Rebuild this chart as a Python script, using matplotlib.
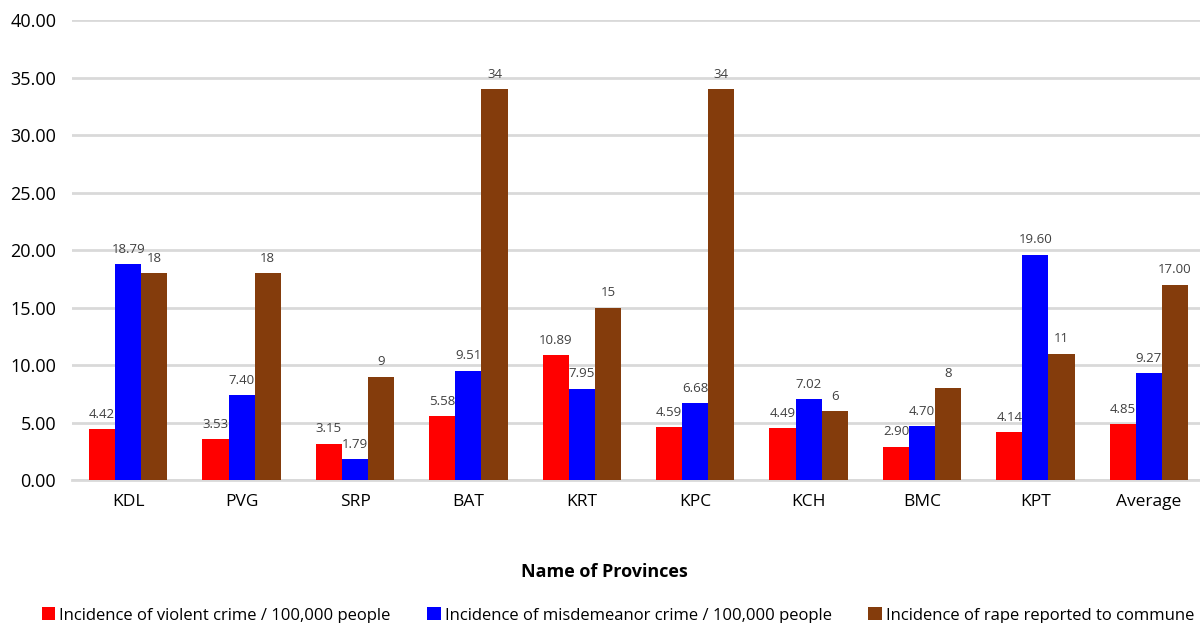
import matplotlib.pyplot as plt
import numpy as np

provinces = ["KDL", "PVG", "SRP", "BAT", "KRT", "KPC", "KCH", "BMC", "KPT", "Average"]
violent = [4.42, 3.53, 3.15, 5.58, 10.89, 4.59, 4.49, 2.90, 4.14, 4.85]
misdemeanor = [18.79, 7.40, 1.79, 9.51, 7.95, 6.68, 7.02, 4.70, 19.60, 9.27]
rape = [18, 18, 9, 34, 15, 34, 6, 8, 11, 17.00]
rape_labels = ["18", "18", "9", "34", "15", "34", "6", "8", "11", "17.00"]

series_names = [
    "Incidence of violent crime / 100,000 people",
    "Incidence of misdemeanor crime / 100,000 people",
    "Incidence of rape reported to commune",
]
colors = ["#FF0000", "#0000FF", "#843C0C"]

plt.rcParams["font.family"] = ["Open Sans", "DejaVu Sans"]

fig = plt.figure(figsize=(12, 6.23), dpi=100)
ax = fig.add_axes([0.0596, 0.2295, 0.945, 0.738])

x = np.arange(len(provinces))
width = 0.23

series = [violent, misdemeanor, rape]
bar_groups = []
for i, (vals, color, name) in enumerate(zip(series, colors, series_names)):
    bars = ax.bar(x + (i - 1) * width, vals, width, color=color, label=name, zorder=3)
    bar_groups.append(bars)

label_sets = [
    [f"{v:.2f}" for v in violent],
    [f"{v:.2f}" for v in misdemeanor],
    rape_labels,
]
for bars, labels in zip(bar_groups, label_sets):
    for rect, text in zip(bars, labels):
        ax.annotate(text, (rect.get_x() + rect.get_width() / 2, rect.get_height()),
                    xytext=(0, 6), textcoords="offset points",
                    ha="center", va="bottom", fontsize=9.5, color="#404040", zorder=4)

ax.set_ylim(0, 40)
ax.set_yticks(np.arange(0, 41, 5))
ax.set_yticklabels([f"{t:.2f}" for t in np.arange(0, 41, 5)], fontsize=13)
ax.set_xlim(-0.5, len(provinces) - 0.5)
ax.set_xticks(x)
ax.set_xticklabels(provinces, fontsize=12.5)
ax.tick_params(axis="both", length=0, pad=10)
ax.tick_params(axis="y", pad=11)

ax.grid(axis="y", color="#D9D9D9", linewidth=2, zorder=0)
for side in ["top", "right", "left"]:
    ax.spines[side].set_visible(False)
ax.spines["bottom"].set_color("#D9D9D9")
ax.spines["bottom"].set_linewidth(2)

ax.set_xlabel("Name of Provinces", fontsize=13, fontweight="bold")
ax.xaxis.set_label_coords(0.47, -0.18)

fig.legend(loc="lower center", bbox_to_anchor=(0.515, -0.025), ncol=3, frameon=False,
           fontsize=12, handlelength=0.8, handleheight=0.8, handletextpad=0.25,
           columnspacing=2.2)

fig.savefig("out.png", dpi=100)
